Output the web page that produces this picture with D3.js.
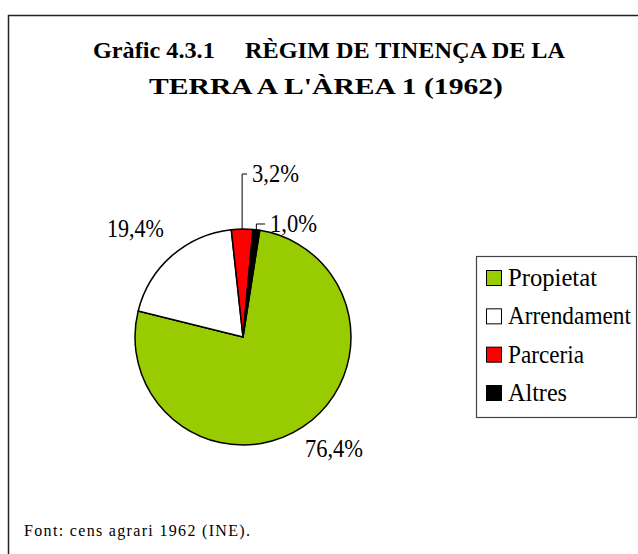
<!DOCTYPE html>
<html lang="ca">
<head>
    <meta charset="UTF-8">
    <title>Gràfic 4.3.1</title>
    <script src="https://d3js.org/d3.v7.min.js"></script>
    <style>
        body { margin: 0; background: #fff; }
        text { font-family: "Liberation Serif", "Times New Roman", serif; fill: #000; white-space: pre; }
    </style>
</head>
<body>
    <div id="chart"></div>

    <script>
        // Data
        const categories = ["Propietat", "Arrendament", "Parceria", "Altres"];
        const values = [76.4, 19.4, 3.2, 1.0];
        const labels = ["76,4%", "19,4%", "3,2%", "1,0%"];
        const colors = ["#99CC00", "#FFFFFF", "#FF0000", "#000000"];

        const W = 638, H = 554;
        const svg = d3.select("#chart").append("svg").attr("width", W).attr("height", H);

        // outer frame (runs off the right and bottom edges)
        svg.append("rect").attr("x", 8.5).attr("y", 15.5).attr("width", 700).attr("height", 700)
            .attr("fill", "none").attr("stroke", "#222").attr("stroke-width", 1.5);

        // title
        svg.append("text").attr("x", 329).attr("y", 58).attr("text-anchor", "middle")
            .attr("font-size", 24).attr("font-weight", "bold")
            .attr("textLength", 472).attr("lengthAdjust", "spacingAndGlyphs")
            .text("Gràfic 4.3.1     RÈGIM DE TINENÇA DE LA");
        svg.append("text").attr("x", 326).attr("y", 94).attr("text-anchor", "middle")
            .attr("font-size", 24).attr("font-weight", "bold")
            .attr("textLength", 354).attr("lengthAdjust", "spacingAndGlyphs")
            .text("TERRA A L'ÀREA 1 (1962)");

        // pie
        const cx = 243, cy = 337, radius = 108;
        const start = 8.9 * Math.PI / 180;
        const pie = d3.pie().sort(null).startAngle(start).endAngle(start + 2 * Math.PI).value(d => d);
        const arcs = pie(values);
        const arc = d3.arc().innerRadius(0).outerRadius(radius);
        const g = svg.append("g").attr("transform", `translate(${cx},${cy})`);
        g.selectAll("path")
            .data(arcs)
            .enter().append("path")
            .attr("d", arc)
            .attr("fill", (d, i) => colors[i])
            .attr("stroke", "#000").attr("stroke-width", 1.5).attr("stroke-linejoin", "round");

        // data labels: [x, baseline, width] in page coordinates
        const labelPos = [[305, 457, 58], [107, 237, 57], [252, 182, 47], [270, 232, 47]];
        labels.forEach((t, i) => {
            const p = labelPos[i];
            svg.append("text").attr("x", p[0]).attr("y", p[1])
                .attr("font-size", 25)
                .attr("textLength", p[2]).attr("lengthAdjust", "spacingAndGlyphs")
                .text(t);
        });

        // leader lines for the two small slices
        [2, 3].forEach(i => {
            const a = (arcs[i].startAngle + arcs[i].endAngle) / 2;
            const x0 = cx + radius * Math.sin(a), y0 = cy - radius * Math.cos(a);
            const ly = labelPos[i][1] - 8;
            svg.append("path")
                .attr("d", `M${x0},${y0}V${ly}H${labelPos[i][0] - 5}`)
                .attr("fill", "none").attr("stroke", "#000").attr("stroke-width", 1);
        });

        // legend
        const legend = svg.append("g");
        legend.append("rect").attr("x", 476.5).attr("y", 256.5).attr("width", 160).attr("height", 161)
            .attr("fill", "#fff").attr("stroke", "#444").attr("stroke-width", 1.2);
        const legendWidths = [89, 123, 76, 59];
        const rowY = d3.scalePoint().domain(categories).range([286, 401]);
        categories.forEach((c, i) => {
            const y = rowY(c);
            legend.append("rect").attr("x", 486.5).attr("y", y - 15.5).attr("width", 15).attr("height", 15)
                .attr("fill", colors[i]).attr("stroke", "#000").attr("stroke-width", 1);
            legend.append("text").attr("transform", `translate(508,${y}) scale(1,1.1)`)
                .attr("font-size", 23)
                .attr("textLength", legendWidths[i]).attr("lengthAdjust", "spacingAndGlyphs")
                .text(c);
        });

        // source note
        svg.append("text").attr("x", 24).attr("y", 536)
            .attr("font-size", 16)
            .attr("textLength", 226).attr("lengthAdjust", "spacing")
            .text("Font: cens agrari 1962 (INE).");
    </script>
</body>
</html>
